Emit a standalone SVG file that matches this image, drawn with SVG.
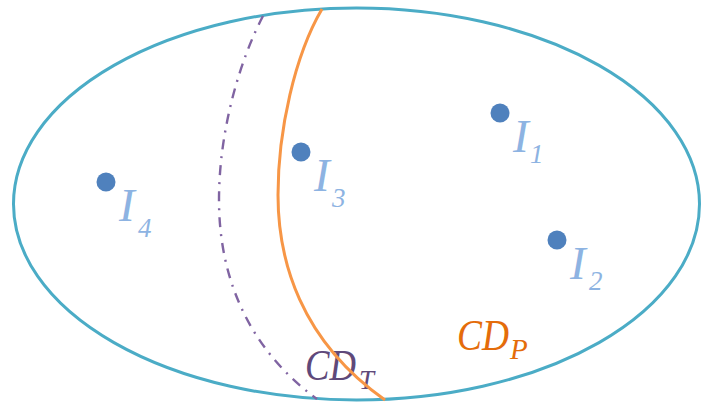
<svg xmlns="http://www.w3.org/2000/svg" width="701" height="403" viewBox="0 0 701 403">
<style>
.dot{fill:#4f81bd}
.lbl{font-family:"Liberation Serif",serif;font-style:italic;fill:#8db3e2}
.big{font-size:47px}
.sub{font-size:27px}
.cd{font-family:"Liberation Serif",serif;font-style:italic}
</style>
<rect width="701" height="403" fill="#ffffff"/>
<g id="universe">
<ellipse cx="356.5" cy="204" rx="343" ry="196" fill="none" stroke="#4bacc6" stroke-width="3"/>
</g>
<g id="connectors">
<path id="cdt-curve" d="M263,16 C240,60 219,130 219,200 C219,280 250,350 317,399" fill="none" stroke="#8064a2" stroke-width="2.4" stroke-dasharray="10 7 2 7"/>
<g id="label-cdt">
<text class="cd" x="305" y="380" font-size="44" fill="#5f497a" textLength="51" lengthAdjust="spacingAndGlyphs">CD</text>
<text class="cd" x="359" y="389" font-size="27" fill="#5f497a">T</text>
</g>
<path id="cdp-curve" d="M322,9 C295,55 278,130 278,195 C278,260 300,340 385,400" fill="none" stroke="#f79646" stroke-width="3"/>
</g>
<g id="label-cdp">
<text class="cd" x="457" y="350" font-size="44" fill="#e46c0a" textLength="52" lengthAdjust="spacingAndGlyphs">CD</text>
<text class="cd" x="510" y="359" font-size="29" fill="#e46c0a">P</text>
</g>
<g id="I1">
<circle class="dot" cx="500" cy="113" r="9.5"/>
<text class="lbl big" x="513" y="152">I</text>
<text class="lbl sub" x="530" y="163">1</text>
</g>
<g id="I2">
<circle class="dot" cx="557" cy="240" r="9.5"/>
<text class="lbl big" x="570" y="279">I</text>
<text class="lbl sub" x="589" y="290">2</text>
</g>
<g id="I3">
<circle class="dot" cx="301" cy="152" r="9.5"/>
<text class="lbl big" x="314" y="191">I</text>
<text class="lbl sub" x="332" y="207">3</text>
</g>
<g id="I4">
<circle class="dot" cx="106" cy="182" r="9.5"/>
<text class="lbl big" x="119" y="221">I</text>
<text class="lbl sub" x="138" y="237">4</text>
</g>
</svg>
